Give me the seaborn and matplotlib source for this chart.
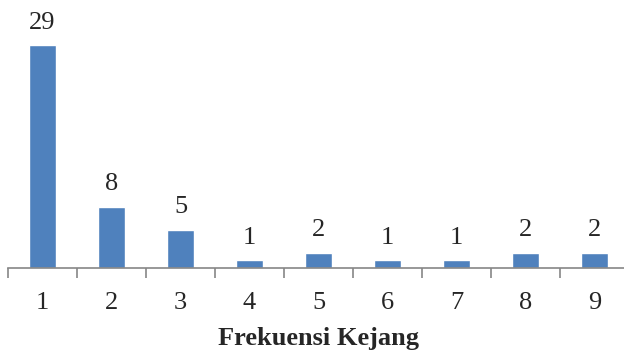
import numpy as np
import pandas as pd
import matplotlib
matplotlib.use("Agg")
import matplotlib.pyplot as plt
import seaborn as sns

# data
frekuensi = ["1", "2", "3", "4", "5", "6", "7", "8", "9"]
jumlah = [29, 8, 5, 1, 2, 1, 1, 2, 2]

df = pd.DataFrame({"frekuensi": frekuensi, "jumlah": jumlah})

sns.set_style("white")
plt.rcParams['font.family'] = ['Liberation Serif', 'DejaVu Serif']

fig = plt.figure(figsize=(6.24, 3.52), dpi=100)
ax = fig.add_axes([8 / 624, 84 / 352, 621 / 624, 246 / 352])

sns.barplot(data=df, x="frekuensi", y="jumlah", color="#4F81BD",
            width=0.4, saturation=1, ax=ax)

for i, v in enumerate(jumlah):
    ax.text(i, v + 1.5, str(v), ha="center", va="bottom", fontsize=19)

ax.set_xlim(-0.5, 8.5)
ax.set_ylim(0, 32)
ax.set_yticks([])
ax.set_ylabel("")
ax.set_xlabel("Frekuensi Kejang", fontsize=19, fontweight="bold", labelpad=10)

for s in ["top", "right", "left"]:
    ax.spines[s].set_visible(False)
ax.spines["bottom"].set_color("#868686")
ax.spines["bottom"].set_linewidth(1.2)

ax.set_xticks(np.arange(-0.5, 9, 1), minor=True)
ax.tick_params(axis="x", which="major", length=0, labelsize=19, pad=17)
ax.tick_params(axis="x", which="minor", length=7, width=1.2, color="#868686",
               direction="out", bottom=True)

fig.savefig("out.png", dpi=100)
